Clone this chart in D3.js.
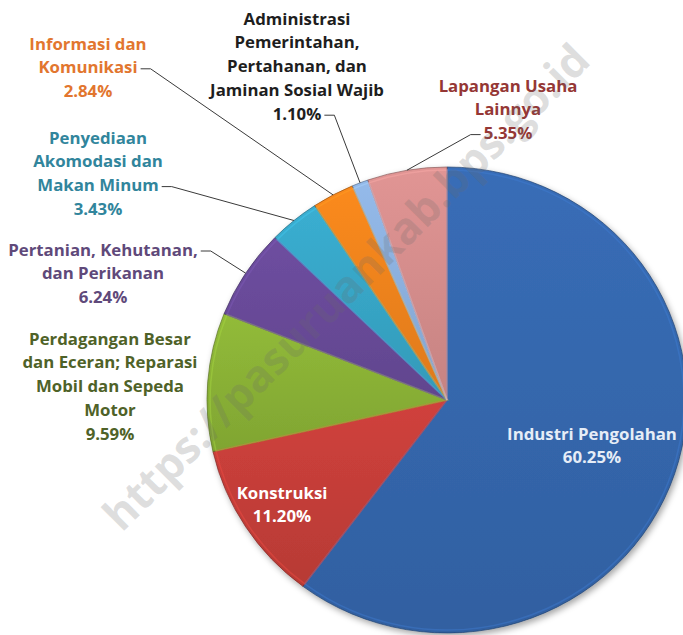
<!DOCTYPE html>
<html>
<head>
<meta charset="utf-8">
<script src="https://cdn.jsdelivr.net/npm/d3@7"></script>
<style>
  html, body { margin: 0; padding: 0; background: #ffffff; }
  svg { display: block; }
  text { font-family: "Open Sans", Lato, sans-serif; font-weight: 700; }
</style>
</head>
<body>
<svg id="chart" width="683" height="635"></svg>
<script>
// ---- data ----
const categories = [
  "Industri Pengolahan",
  "Konstruksi",
  "Perdagangan Besar dan Eceran; Reparasi Mobil dan Sepeda Motor",
  "Pertanian, Kehutanan, dan Perikanan",
  "Penyediaan Akomodasi dan Makan Minum",
  "Informasi dan Komunikasi",
  "Administrasi Pemerintahan, Pertahanan, dan Jaminan Sosial Wajib",
  "Lapangan Usaha Lainnya"
];
const values = [60.25, 11.20, 9.59, 6.24, 3.43, 2.84, 1.10, 5.35];
const valueLabels = ["60.25%", "11.20%", "9.59%", "6.24%", "3.43%", "2.84%", "1.10%", "5.35%"];
const labelLines = [
  ["Industri Pengolahan"],
  ["Konstruksi"],
  ["Perdagangan Besar", "dan Eceran; Reparasi", "Mobil dan Sepeda", "Motor"],
  ["Pertanian, Kehutanan,", "dan Perikanan"],
  ["Penyediaan", "Akomodasi dan", "Makan Minum"],
  ["Informasi dan", "Komunikasi"],
  ["Administrasi", "Pemerintahan,", "Pertahanan, dan", "Jaminan Sosial Wajib"],
  ["Lapangan Usaha", "Lainnya"]
];
const watermark = "https://pasuruankab.bps.go.id";

// ---- styles / layout ----
const sliceColors = ["#3567ad", "#c53e39", "#8ab136", "#684a98", "#37a5c6", "#ee831c", "#8cb0de", "#d58d8c"];
const labelColors = ["#e6edf7", "#ffffff", "#4f6228", "#5f497a", "#31859c", "#e2762f", "#1e1e1e", "#953735"];
const labelPos = [
  {x: 592, y: 433},
  {x: 282, y: 492},
  {x: 110, y: 338},
  {x: 103, y: 249},
  {x: 98,  y: 137},
  {x: 88,  y: 43},
  {x: 297, y: 18},
  {x: 508, y: 85}
];
const leaders = [null, null, null, {line: 0, side: "right"}, {line: 2, side: "right"}, {line: 1, side: "right"}, {line: 4, side: "right"}, {line: 2, side: "left"}];
const lineH = 23.8;
const fontSize = 16.8;

const cx = 447, cy = 400, ry = 233, sx = 240 / 233;

const svg = d3.select("#chart");
const defs = svg.append("defs");

const f = defs.append("filter").attr("id", "shadow").attr("x", "-10%").attr("y", "-10%").attr("width", "125%").attr("height", "125%");
f.append("feDropShadow").attr("dx", 2).attr("dy", 3).attr("stdDeviation", 3).attr("flood-color", "#000").attr("flood-opacity", 0.35);

sliceColors.forEach((c, i) => {
  const g = defs.append("linearGradient").attr("id", "grad" + i)
    .attr("x1", "0").attr("y1", "0").attr("x2", "0").attr("y2", "1");
  g.append("stop").attr("offset", "0%").attr("stop-color", d3.color(c).brighter(0.15));
  g.append("stop").attr("offset", "100%").attr("stop-color", d3.color(c).darker(0.2));
});

const pie = d3.pie().sort(null).value(d => d)(values);
const arc = d3.arc().innerRadius(0).outerRadius(ry);
const edgeArc = d3.arc().innerRadius(ry).outerRadius(ry);

const pg = svg.append("g").attr("transform", `translate(${cx},${cy}) scale(${sx},1)`);
const slices = pg.append("g").attr("filter", "url(#shadow)");
slices.selectAll("path.slice").data(pie).join("path")
  .attr("class", "slice")
  .attr("d", arc)
  .attr("fill", (d, i) => `url(#grad${i})`)
  .attr("stroke", (d, i) => d3.color(sliceColors[i]).darker(1.3))
  .attr("stroke-width", 0.9)
  .attr("stroke-opacity", 0.75);
const bevel = d3.arc().innerRadius(0).outerRadius(ry - 3);
pg.append("g").selectAll("path").data(pie).join("path")
  .attr("d", bevel)
  .attr("fill", "none")
  .attr("stroke", (d, i) => d3.color(sliceColors[i]).brighter(0.6))
  .attr("stroke-width", 1.5)
  .attr("stroke-opacity", 0.4);

// leader lines
const lg = svg.append("g");
pie.forEach((d, i) => {
  const L = leaders[i];
  if (!L) return;
  const c = edgeArc.centroid(d);
  const end = [cx + c[0] * sx, cy + c[1]];
  const lines = labelLines[i].concat([valueLabels[i]]);
  const p = labelPos[i];
  const tmp = svg.append("text").attr("font-size", fontSize).text(lines[L.line]);
  const w = tmp.node().getComputedTextLength();
  tmp.remove();
  const ly = p.y + L.line * lineH + 2;
  let x0, x1;
  if (L.side === "right") { x0 = p.x + w / 2 + 3; x1 = x0 + 10; }
  else { x0 = p.x - w / 2 - 3; x1 = x0 - 10; }
  lg.append("path")
    .attr("d", d3.line()([[x0, ly], [x1, ly], end]))
    .attr("fill", "none").attr("stroke", "#3a3a3a").attr("stroke-width", 1);
});

// labels
const tg = svg.append("g");
labelLines.forEach((ls, i) => {
  const lines = ls.concat([valueLabels[i]]);
  const t = tg.append("text")
    .attr("text-anchor", "middle")
    .attr("font-size", fontSize)
    .attr("fill", labelColors[i]);
  lines.forEach((s, k) => {
    t.append("tspan").attr("x", labelPos[i].x).attr("y", labelPos[i].y + k * lineH)
      .attr("dominant-baseline", "central").text(s);
  });
});

// watermark
svg.append("text")
  .attr("transform", "translate(345,286) rotate(-45)")
  .attr("text-anchor", "middle")
  .attr("dominant-baseline", "central")
  .attr("font-family", "'Liberation Sans', Arial, sans-serif")
  .attr("font-weight", 700)
  .attr("font-size", 44)
  .attr("fill", "#6a6a6a")
  .attr("fill-opacity", 0.22)
  .text(watermark);
</script>
</body>
</html>
